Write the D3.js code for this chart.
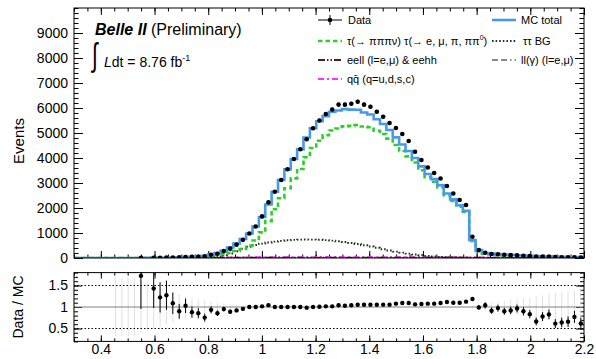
<!DOCTYPE html>
<html>
<head>
<meta charset="utf-8">
<script src="https://cdn.jsdelivr.net/npm/d3@7"></script>
<style>
  body { margin: 0; background: #fff; }
  text { font-family: "Liberation Sans", Arial, sans-serif; fill: #000; }
</style>
</head>
<body>
<svg id="chart" width="596" height="359"></svg>
<script>
// binning: 80 bins between 0.3 and 2.2
const xMin = 0.3, xMax = 2.2, nBins = 80;

const dataCounts = [0,0,0,0,0,0,0,0,0,0, 5,0,10,12,14,19,27,37,44,53,
  64,126,171,276,374,534,727,980,1260,1665, 2226,2650,3120,3550,3962,4350,4748,5190,5497,5760,
  5938,6136,6134,6172,6250,6134,6050,5850,5650,5400, 5200,4960,4680,4250,3920,3620,3400,3180,2880,2580,
  2320,2120,853,317,208,160,151,126,115,108, 90,75,53,56,53,35,32,29,30,21];

const signal = [0.1,0.2,0.2,0.2,0.2,0.3,0.3,0.3,0.4,0.5, 0.5,0.7,3.2,5.1,5.3,10,20,24,34,40,
  54,87,119,156,213,281,358,496,702,1025, 1477,1951,2389,2790,3186,3561,4029,4401,4688,4908,
  5103,5178,5264,5284,5320,5261,5231,5092,4963,4777, 4523,4278,4064,3819,3512,3232,3052,2825,2510,2285,
  2057,1840,680,282,164,140.5,121.5,107,93,80, 69,60,51,43,36.5,29.5,23.5,18.5,14.5,9.5];

const tautauBG = [0.1,0.1,0.1,0.1,0.1,0.1,0.2,0.2,0.2,0.2, 0.2,0.3,0.4,0.6,0.8,1.2,2,3,5,9,
  15,30,60,110,180,270,370,450,520,575, 620,655,685,710,725,735,740,738,730,715,
  695,670,640,600,560,510,460,410,350,300, 255,215,175,140,110,85,62,45,32,22,
  15,10,5,3,2,1.5,1.5,1,1,1, 1,1,1,1,0.5,0.5,0.5,0.5,0.5,0.5];

const eell = [0.3,0.3,0.3,0.3,0.4,0.4,0.5,0.5,0.5,0.6, 0.6,0.7,0.9,1,1.2,1.5,2,2,3,3,
  4,4,5,5,6,6,7,7,8,8, 9,9,10,10,10,11,11,11,11,11,
  11,11,11,11,10,10,10,10,9,9, 9,9,8,8,8,8,7,7,7,7,
  6,6,6,6,6,5,5,5,5,5, 5,4,4,4,4,4,4,3,3,3];

const qqbar = [0.6,0.6,0.7,0.8,0.9,1,1,1.1,1.2,1.2, 1.3,1.5,2,2.5,3,4,5,6,7,8,
  10,12,14,16,18,20,22,24,26,28, 30,31,32,33,34,35,35,35,36,36,
  36,36,35,35,35,34,34,33,33,32, 32,31,30,30,29,28,28,27,27,26,
  26,25,24,24,23,23,22,22,21,21, 20,20,19,19,18,18,17,17,16,16];

const llgamma = [0.1,0.1,0.1,0.2,0.2,0.2,0.2,0.3,0.3,0.3, 0.3,0.4,0.5,0.6,0.7,0.8,1,1,1,2,
  2,2,2,3,3,3,3,3,4,4, 4,4,4,4,5,5,5,5,5,5,
  5,5,5,5,5,5,5,5,5,5, 5,5,5,5,5,5,5,5,5,5,
  5,5,5,5,5,5,5,5,5,5, 5,5,5,5,5,5,5,5,5,5];

// relative MC stat. uncertainty (grey bars in ratio panel)
const mcRelErr = [0,0,0,0,0,0,0.68,0.68,0.68,0.68, 0.6,0.55,0.5,0.45,0.4,0.35,0.3,0.25,0.2,0.17,
  0.15,0.12,0.1,0.08,0.06,0.05,0.04,0.03,0.02,0.01, 0.01,0.01,0.01,0.01,0.01,0.01,0.01,0.01,0.01,0.01,
  0.01,0.01,0.01,0.01,0.01,0.01,0.01,0.01,0.01,0.01, 0.01,0.01,0.01,0.01,0.01,0.01,0.01,0.01,0.01,0.01,
  0.01,0.02,0.03,0.05,0.08,0.1,0.12,0.14,0.16,0.18, 0.2,0.22,0.25,0.27,0.3,0.32,0.34,0.36,0.38,0.4];

const xTicks = [0.4, 0.6, 0.8, 1, 1.2, 1.4, 1.6, 1.8, 2, 2.2];
const yTicks = [0, 1000, 2000, 3000, 4000, 5000, 6000, 7000, 8000, 9000];
const ratioTicks = [0.5, 1, 1.5];

const svg = d3.select('#chart');
const left = 74, right = 584;
const mainTop = 8, mainBottom = 258;
const ratTop = 272.6, ratBottom = 341.4;

const x = d3.scaleLinear().domain([xMin, xMax]).range([left, right]);
const y = d3.scaleLinear().domain([0, 10000]).range([mainBottom, mainTop]);
const yr = d3.scaleLinear().domain([0.2, 1.8]).range([ratBottom, ratTop]);

const binW = (xMax - xMin) / nBins;
const edges = d3.range(nBins + 1).map(i => xMin + i * binW);
const centers = d3.range(nBins).map(i => xMin + (i + 0.5) * binW);
const mcTotal = d3.range(nBins).map(i => signal[i] + tautauBG[i] + eell[i] + qqbar[i] + llgamma[i]);

const defs = svg.append('defs');
defs.append('clipPath').attr('id', 'clipMain')
  .append('rect').attr('x', left).attr('y', mainTop).attr('width', right - left).attr('height', mainBottom - mainTop);
defs.append('clipPath').attr('id', 'clipRat')
  .append('rect').attr('x', left).attr('y', ratTop).attr('width', right - left).attr('height', ratBottom - ratTop);

// ---------- ticks (ROOT style, inward on all sides) ----------
function ticks(axisFn, scale, values, size, tr, labels, pad) {
  const ax = axisFn(scale).tickValues(values).tickSize(-size).tickPadding(pad || 3)
    .tickFormat(labels ? d3.format('~g') : '');
  const g = svg.append('g').attr('transform', tr).call(ax);
  g.select('.domain').remove();
  g.selectAll('line').attr('stroke', '#000').attr('stroke-width', 1);
  g.selectAll('text').attr('font-size', 14).attr('font-family', '"Liberation Sans", Arial, sans-serif');
  return g;
}
const xMinor = d3.range(0, 39).map(i => xMin + i * 0.05);
const yMinor = d3.range(0, 51).map(i => i * 200);
const rMinor = d3.range(0, 17).map(i => 0.2 + i * 0.1);

// main panel
ticks(d3.axisLeft, y, yTicks, 9, `translate(${left},0)`, true, 6);
ticks(d3.axisLeft, y, yMinor, 4.5, `translate(${left},0)`, false);
ticks(d3.axisRight, y, yTicks, 9, `translate(${right},0)`, false);
ticks(d3.axisRight, y, yMinor, 4.5, `translate(${right},0)`, false);
ticks(d3.axisTop, x, xTicks, 7, `translate(0,${mainTop})`, false);
ticks(d3.axisTop, x, xMinor, 3.5, `translate(0,${mainTop})`, false);
ticks(d3.axisBottom, x, xTicks, 7, `translate(0,${mainBottom})`, false);
ticks(d3.axisBottom, x, xMinor, 3.5, `translate(0,${mainBottom})`, false);

// ratio panel
ticks(d3.axisLeft, yr, ratioTicks, 8, `translate(${left},0)`, true, 6);
ticks(d3.axisLeft, yr, rMinor, 4, `translate(${left},0)`, false);
ticks(d3.axisRight, yr, ratioTicks, 8, `translate(${right},0)`, false);
ticks(d3.axisRight, yr, rMinor, 4, `translate(${right},0)`, false);
ticks(d3.axisTop, x, xTicks, 6, `translate(0,${ratTop})`, false);
ticks(d3.axisTop, x, xMinor, 3, `translate(0,${ratTop})`, false);
ticks(d3.axisBottom, x, xTicks, 6, `translate(0,${ratBottom})`, true, 3);
ticks(d3.axisBottom, x, xMinor, 3, `translate(0,${ratBottom})`, false);

// ---------- main histograms ----------
const step = d3.line().curve(d3.curveStepAfter).x(d => x(d[0])).y(d => y(d[1]));
function histPts(arr) {
  const pts = arr.map((v, i) => [edges[i], v]);
  pts.push([edges[nBins], arr[nBins - 1]]);
  return pts;
}
const gMain = svg.append('g').attr('clip-path', 'url(#clipMain)');
const series = [
  { vals: llgamma, color: '#8a8a8a', w: 2, dash: '6,3,6,3,1.5,3' },
  { vals: qqbar, color: '#ff33ff', w: 2, dash: '6,3,2,3' },
  { vals: eell, color: '#4d1c1c', w: 2, dash: '7,2,1.5,2,1.5,2' },
  { vals: tautauBG, color: '#22331f', w: 1.8, dash: '1.6,2' },
  { vals: signal, color: '#2ccf2c', w: 2.6, dash: '4.5,3' },
  { vals: mcTotal, color: '#4799ea', w: 2.6, dash: null }
];
series.forEach(s => {
  gMain.append('path').attr('d', step(histPts(s.vals)))
    .attr('fill', 'none').attr('stroke', s.color).attr('stroke-width', s.w)
    .attr('stroke-dasharray', s.dash);
});
// data points
const pts = centers.map((c, i) => ({ c, v: dataCounts[i] })).filter(d => d.v > 0);
gMain.selectAll('line.err').data(pts).join('line')
  .attr('x1', d => x(d.c)).attr('x2', d => x(d.c))
  .attr('y1', d => y(d.v + Math.sqrt(d.v))).attr('y2', d => y(d.v - Math.sqrt(d.v)))
  .attr('stroke', '#000').attr('stroke-width', 1);
gMain.selectAll('circle').data(pts).join('circle')
  .attr('cx', d => x(d.c)).attr('cy', d => y(d.v)).attr('r', 2.3).attr('fill', '#000');

// ---------- ratio panel ----------
const gRat = svg.append('g').attr('clip-path', 'url(#clipRat)');
gRat.selectAll('line.mc').data(centers.map((c, i) => ({ c, e: mcRelErr[i] })).filter(d => d.e > 0.015))
  .join('line')
  .attr('x1', d => x(d.c)).attr('x2', d => x(d.c))
  .attr('y1', d => yr(1 + d.e)).attr('y2', d => yr(1 - d.e))
  .attr('stroke', '#e0e0e0').attr('stroke-width', 1);
gRat.append('line').attr('x1', left).attr('x2', right).attr('y1', yr(1)).attr('y2', yr(1))
  .attr('stroke', '#808080').attr('stroke-width', 1);
[0.5, 1.5].forEach(v => {
  gRat.append('line').attr('x1', left).attr('x2', right).attr('y1', yr(v)).attr('y2', yr(v))
    .attr('stroke', '#000').attr('stroke-width', 1).attr('stroke-dasharray', '1.5,2');
});
const ratio = centers.map((c, i) => ({
  c, r: dataCounts[i] / mcTotal[i], e: Math.sqrt(dataCounts[i]) / mcTotal[i], n: dataCounts[i]
})).filter(d => d.n > 0);
gRat.selectAll('line.rerr').data(ratio).join('line')
  .attr('x1', d => x(d.c)).attr('x2', d => x(d.c))
  .attr('y1', d => yr(d.r + d.e)).attr('y2', d => yr(d.r - d.e))
  .attr('stroke', '#000').attr('stroke-width', 1);
gRat.selectAll('circle').data(ratio).join('circle')
  .attr('cx', d => x(d.c)).attr('cy', d => yr(d.r)).attr('r', 2.2).attr('fill', '#000');

// frames
svg.append('rect').attr('x', left).attr('y', mainTop).attr('width', right - left).attr('height', mainBottom - mainTop)
  .attr('fill', 'none').attr('stroke', '#000').attr('stroke-width', 1);
svg.append('rect').attr('x', left).attr('y', ratTop).attr('width', right - left).attr('height', ratBottom - ratTop)
  .attr('fill', 'none').attr('stroke', '#000').attr('stroke-width', 1);

// axis titles
svg.append('text').attr('transform', 'translate(24,141) rotate(-90)').attr('text-anchor', 'middle')
  .attr('font-size', 15).text('Events');
svg.append('text').attr('transform', 'translate(23,307) rotate(-90)').attr('text-anchor', 'middle')
  .attr('font-size', 14).text('Data / MC');

// Belle II label
const t1 = svg.append('text').attr('x', 95).attr('y', 35).attr('font-size', 16);
t1.append('tspan').attr('font-weight', 'bold').attr('font-style', 'italic').text('Belle II');
t1.append('tspan').text(' (Preliminary)');
svg.append('text').attr('x', 92).attr('y', 66).attr('font-size', 26)
  .attr('transform', 'translate(92,66) scale(0.8,1.25) translate(-92,-66)').text('∫');
const t2 = svg.append('text').attr('x', 104).attr('y', 67).attr('font-size', 14);
t2.append('tspan').attr('font-style', 'italic').text('L');
t2.append('tspan').text('dt = 8.76 fb');
t2.append('tspan').attr('font-size', 9).attr('dy', -6).text('-1');

// legend
const legFont = 11;
function legLine(x0, yc, color, w, dash) {
  svg.append('line').attr('x1', x0).attr('x2', x0 + 24).attr('y1', yc).attr('y2', yc)
    .attr('stroke', color).attr('stroke-width', w).attr('stroke-dasharray', dash);
}
function legText(x0, yc, str) {
  return svg.append('text').attr('x', x0).attr('y', yc + 4).attr('font-size', legFont).text(str);
}
const rowY = [20, 41, 60, 79];
const c1 = 318, c2 = 492;
// data
svg.append('line').attr('x1', c1).attr('x2', c1 + 24).attr('y1', rowY[0]).attr('y2', rowY[0]).attr('stroke', '#000');
svg.append('line').attr('x1', c1 + 12).attr('x2', c1 + 12).attr('y1', rowY[0] - 5).attr('y2', rowY[0] + 5).attr('stroke', '#000');
svg.append('circle').attr('cx', c1 + 12).attr('cy', rowY[0]).attr('r', 2.3).attr('fill', '#000');
legText(c1 + 30, rowY[0], 'Data');
legLine(c1, rowY[1], '#2ccf2c', 2.6, '4.5,3');
const st = legText(c1 + 29, rowY[1], 'τ(→ πππν) τ(→ e, μ, π, ππ');
st.append('tspan').attr('font-size', 7).attr('dy', -5).text('0');
st.append('tspan').attr('dy', 5).text(')');
legLine(c1, rowY[2], '#4d1c1c', 2, '7,2,1.5,2,1.5,2');
legText(c1 + 29, rowY[2], 'eell (l=e,μ) & eehh');
legLine(c1, rowY[3], '#ff33ff', 2, '6,3,2,3');
legText(c1 + 29, rowY[3], 'qq\u0304 (q=u,d,s,c)');
legLine(c2, rowY[0], '#4799ea', 2.6, null);
legText(c2 + 29, rowY[0], 'MC total');
legLine(c2, rowY[1], '#22331f', 1.8, '1.6,2');
legText(c2 + 31, rowY[1], 'ττ BG');
legLine(c2, rowY[2], '#8a8a8a', 2, '6,3,6,3,1.5,3');
legText(c2 + 29, rowY[2], 'll(γ) (l=e,μ)');
</script>
</body>
</html>
